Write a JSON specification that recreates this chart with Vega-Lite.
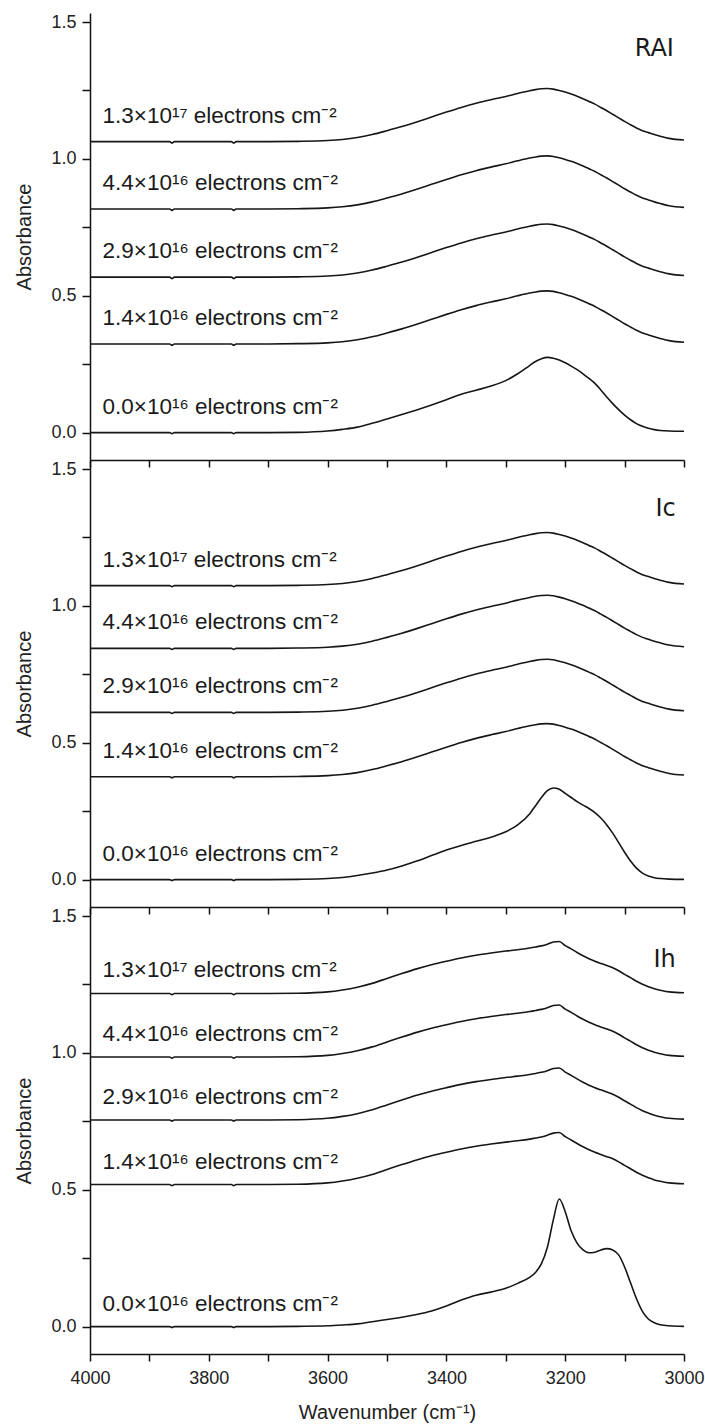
{
  "$schema": "https://vega.github.io/schema/vega-lite/v6.json",
  "padding": {"left": 14, "top": 13, "right": 4, "bottom": 1},
  "bounds": "flush",
  "spacing": 0,
  "background": "white",
  "datasets": {
    "spec": [
      {"w":4000,"R0":0,"R1":0.324,"R2":0.568,"R3":0.817,"R4":1.063,"C0":0,"C1":0.376,"C2":0.611,"C3":0.845,"C4":1.074,"H0":0,"H1":0.519,"H2":0.755,"H3":0.985,"H4":1.217},
      {"w":3950,"R0":0,"R1":0.324,"R2":0.568,"R3":0.817,"R4":1.063,"C0":0,"C1":0.376,"C2":0.611,"C3":0.845,"C4":1.074,"H0":0,"H1":0.519,"H2":0.755,"H3":0.985,"H4":1.217},
      {"w":3900,"R0":0,"R1":0.324,"R2":0.568,"R3":0.817,"R4":1.063,"C0":0,"C1":0.376,"C2":0.611,"C3":0.845,"C4":1.074,"H0":0,"H1":0.519,"H2":0.755,"H3":0.985,"H4":1.217},
      {"w":3866,"R0":0,"R1":0.324,"R2":0.568,"R3":0.817,"R4":1.063,"C0":0,"C1":0.376,"C2":0.611,"C3":0.845,"C4":1.074,"H0":0,"H1":0.519,"H2":0.755,"H3":0.985,"H4":1.217},
      {"w":3862,"R0":-0.004,"R1":0.319,"R2":0.563,"R3":0.812,"R4":1.058,"C0":-0.003,"C1":0.372,"C2":0.607,"C3":0.841,"C4":1.070,"H0":-0.003,"H1":0.515,"H2":0.751,"H3":0.981,"H4":1.213},
      {"w":3858,"R0":0,"R1":0.324,"R2":0.568,"R3":0.817,"R4":1.063,"C0":0,"C1":0.376,"C2":0.611,"C3":0.845,"C4":1.074,"H0":0,"H1":0.519,"H2":0.755,"H3":0.985,"H4":1.217},
      {"w":3850,"R0":0,"R1":0.324,"R2":0.568,"R3":0.817,"R4":1.063,"C0":0,"C1":0.376,"C2":0.611,"C3":0.845,"C4":1.074,"H0":0,"H1":0.519,"H2":0.755,"H3":0.985,"H4":1.217},
      {"w":3800,"R0":0,"R1":0.324,"R2":0.568,"R3":0.817,"R4":1.063,"C0":0,"C1":0.376,"C2":0.611,"C3":0.845,"C4":1.074,"H0":0,"H1":0.519,"H2":0.755,"H3":0.985,"H4":1.217},
      {"w":3762,"R0":0,"R1":0.324,"R2":0.568,"R3":0.817,"R4":1.063,"C0":0,"C1":0.376,"C2":0.611,"C3":0.845,"C4":1.074,"H0":0,"H1":0.519,"H2":0.755,"H3":0.985,"H4":1.217},
      {"w":3758,"R0":-0.004,"R1":0.319,"R2":0.563,"R3":0.812,"R4":1.058,"C0":-0.003,"C1":0.372,"C2":0.607,"C3":0.841,"C4":1.070,"H0":-0.003,"H1":0.515,"H2":0.751,"H3":0.981,"H4":1.213},
      {"w":3754,"R0":0,"R1":0.324,"R2":0.568,"R3":0.817,"R4":1.063,"C0":0,"C1":0.376,"C2":0.611,"C3":0.845,"C4":1.074,"H0":0,"H1":0.519,"H2":0.755,"H3":0.985,"H4":1.217},
      {"w":3700,"R0":0,"R1":0.324,"R2":0.568,"R3":0.817,"R4":1.063,"C0":0,"C1":0.376,"C2":0.611,"C3":0.845,"C4":1.074,"H0":0,"H1":0.519,"H2":0.755,"H3":0.985,"H4":1.217},
      {"w":3650,"R0":0.001,"R1":0.325,"R2":0.569,"R3":0.818,"R4":1.064,"C0":0.001,"C1":0.377,"C2":0.612,"C3":0.846,"C4":1.075,"H0":0.001,"H1":0.520,"H2":0.756,"H3":0.986,"H4":1.218},
      {"w":3600,"R0":0.006,"R1":0.328,"R2":0.572,"R3":0.821,"R4":1.067,"C0":0.004,"C1":0.380,"C2":0.615,"C3":0.849,"C4":1.078,"H0":0.003,"H1":0.525,"H2":0.761,"H3":0.991,"H4":1.223},
      {"w":3575,"R0":0.012,"R1":0.332,"R2":0.576,"R3":0.825,"R4":1.071,"C0":0.008,"C1":0.384,"C2":0.619,"C3":0.853,"C4":1.082,"H0":0.006,"H1":0.532,"H2":0.768,"H3":0.998,"H4":1.230},
      {"w":3550,"R0":0.020,"R1":0.339,"R2":0.583,"R3":0.832,"R4":1.078,"C0":0.015,"C1":0.391,"C2":0.626,"C3":0.860,"C4":1.089,"H0":0.010,"H1":0.542,"H2":0.778,"H3":1.008,"H4":1.240},
      {"w":3525,"R0":0.034,"R1":0.350,"R2":0.594,"R3":0.843,"R4":1.089,"C0":0.024,"C1":0.402,"C2":0.637,"C3":0.871,"C4":1.100,"H0":0.018,"H1":0.556,"H2":0.792,"H3":1.022,"H4":1.254},
      {"w":3500,"R0":0.050,"R1":0.364,"R2":0.608,"R3":0.857,"R4":1.103,"C0":0.035,"C1":0.416,"C2":0.651,"C3":0.885,"C4":1.114,"H0":0.026,"H1":0.574,"H2":0.810,"H3":1.040,"H4":1.272},
      {"w":3475,"R0":0.066,"R1":0.379,"R2":0.623,"R3":0.872,"R4":1.118,"C0":0.050,"C1":0.431,"C2":0.666,"C3":0.900,"C4":1.129,"H0":0.034,"H1":0.592,"H2":0.828,"H3":1.058,"H4":1.290},
      {"w":3450,"R0":0.083,"R1":0.396,"R2":0.640,"R3":0.889,"R4":1.135,"C0":0.068,"C1":0.448,"C2":0.683,"C3":0.917,"C4":1.146,"H0":0.044,"H1":0.609,"H2":0.845,"H3":1.075,"H4":1.307},
      {"w":3425,"R0":0.101,"R1":0.414,"R2":0.658,"R3":0.907,"R4":1.153,"C0":0.088,"C1":0.466,"C2":0.701,"C3":0.935,"C4":1.164,"H0":0.057,"H1":0.624,"H2":0.860,"H3":1.090,"H4":1.322},
      {"w":3400,"R0":0.120,"R1":0.432,"R2":0.676,"R3":0.925,"R4":1.171,"C0":0.108,"C1":0.484,"C2":0.719,"C3":0.953,"C4":1.182,"H0":0.075,"H1":0.637,"H2":0.873,"H3":1.103,"H4":1.335},
      {"w":3375,"R0":0.140,"R1":0.449,"R2":0.693,"R3":0.942,"R4":1.188,"C0":0.125,"C1":0.501,"C2":0.736,"C3":0.970,"C4":1.199,"H0":0.097,"H1":0.649,"H2":0.885,"H3":1.115,"H4":1.347},
      {"w":3350,"R0":0.155,"R1":0.464,"R2":0.708,"R3":0.957,"R4":1.203,"C0":0.140,"C1":0.516,"C2":0.751,"C3":0.985,"C4":1.214,"H0":0.115,"H1":0.659,"H2":0.895,"H3":1.125,"H4":1.357},
      {"w":3325,"R0":0.170,"R1":0.477,"R2":0.721,"R3":0.970,"R4":1.216,"C0":0.155,"C1":0.529,"C2":0.764,"C3":0.998,"C4":1.227,"H0":0.126,"H1":0.667,"H2":0.903,"H3":1.133,"H4":1.365},
      {"w":3300,"R0":0.190,"R1":0.489,"R2":0.733,"R3":0.982,"R4":1.228,"C0":0.175,"C1":0.541,"C2":0.776,"C3":1.010,"C4":1.239,"H0":0.140,"H1":0.674,"H2":0.910,"H3":1.140,"H4":1.372},
      {"w":3280,"R0":0.215,"R1":0.500,"R2":0.744,"R3":0.993,"R4":1.239,"C0":0.200,"C1":0.552,"C2":0.787,"C3":1.021,"C4":1.250,"H0":0.158,"H1":0.679,"H2":0.915,"H3":1.145,"H4":1.377},
      {"w":3260,"R0":0.245,"R1":0.510,"R2":0.754,"R3":1.003,"R4":1.249,"C0":0.240,"C1":0.562,"C2":0.797,"C3":1.031,"C4":1.260,"H0":0.180,"H1":0.685,"H2":0.921,"H3":1.151,"H4":1.383},
      {"w":3250,"R0":0.260,"R1":0.514,"R2":0.758,"R3":1.007,"R4":1.253,"C0":0.270,"C1":0.566,"C2":0.801,"C3":1.035,"C4":1.264,"H0":0.198,"H1":0.689,"H2":0.925,"H3":1.155,"H4":1.387},
      {"w":3240,"R0":0.270,"R1":0.517,"R2":0.761,"R3":1.010,"R4":1.256,"C0":0.300,"C1":0.569,"C2":0.804,"C3":1.038,"C4":1.267,"H0":0.230,"H1":0.693,"H2":0.929,"H3":1.159,"H4":1.391},
      {"w":3230,"R0":0.275,"R1":0.518,"R2":0.762,"R3":1.011,"R4":1.257,"C0":0.325,"C1":0.570,"C2":0.805,"C3":1.039,"C4":1.268,"H0":0.290,"H1":0.699,"H2":0.935,"H3":1.165,"H4":1.397},
      {"w":3220,"R0":0.272,"R1":0.516,"R2":0.760,"R3":1.009,"R4":1.255,"C0":0.335,"C1":0.568,"C2":0.803,"C3":1.037,"C4":1.266,"H0":0.390,"H1":0.707,"H2":0.943,"H3":1.173,"H4":1.405},
      {"w":3210,"R0":0.265,"R1":0.511,"R2":0.755,"R3":1.004,"R4":1.250,"C0":0.330,"C1":0.563,"C2":0.798,"C3":1.032,"C4":1.261,"H0":0.466,"H1":0.709,"H2":0.945,"H3":1.175,"H4":1.407},
      {"w":3200,"R0":0.255,"R1":0.505,"R2":0.749,"R3":0.998,"R4":1.244,"C0":0.315,"C1":0.557,"C2":0.792,"C3":1.026,"C4":1.255,"H0":0.420,"H1":0.694,"H2":0.930,"H3":1.160,"H4":1.392},
      {"w":3190,"R0":0.243,"R1":0.498,"R2":0.742,"R3":0.991,"R4":1.237,"C0":0.300,"C1":0.550,"C2":0.785,"C3":1.019,"C4":1.248,"H0":0.350,"H1":0.682,"H2":0.918,"H3":1.148,"H4":1.380},
      {"w":3180,"R0":0.230,"R1":0.490,"R2":0.734,"R3":0.983,"R4":1.229,"C0":0.285,"C1":0.542,"C2":0.777,"C3":1.011,"C4":1.240,"H0":0.305,"H1":0.669,"H2":0.905,"H3":1.135,"H4":1.367},
      {"w":3170,"R0":0.215,"R1":0.481,"R2":0.725,"R3":0.974,"R4":1.220,"C0":0.272,"C1":0.533,"C2":0.768,"C3":1.002,"C4":1.231,"H0":0.280,"H1":0.657,"H2":0.893,"H3":1.123,"H4":1.355},
      {"w":3160,"R0":0.198,"R1":0.471,"R2":0.715,"R3":0.964,"R4":1.210,"C0":0.260,"C1":0.523,"C2":0.758,"C3":0.992,"C4":1.221,"H0":0.270,"H1":0.646,"H2":0.882,"H3":1.112,"H4":1.344},
      {"w":3150,"R0":0.180,"R1":0.461,"R2":0.705,"R3":0.954,"R4":1.200,"C0":0.245,"C1":0.513,"C2":0.748,"C3":0.982,"C4":1.211,"H0":0.272,"H1":0.637,"H2":0.873,"H3":1.103,"H4":1.335},
      {"w":3140,"R0":0.156,"R1":0.449,"R2":0.693,"R3":0.942,"R4":1.188,"C0":0.225,"C1":0.501,"C2":0.736,"C3":0.970,"C4":1.199,"H0":0.280,"H1":0.629,"H2":0.865,"H3":1.095,"H4":1.327},
      {"w":3130,"R0":0.130,"R1":0.437,"R2":0.681,"R3":0.930,"R4":1.176,"C0":0.200,"C1":0.489,"C2":0.724,"C3":0.958,"C4":1.187,"H0":0.285,"H1":0.621,"H2":0.857,"H3":1.087,"H4":1.319},
      {"w":3120,"R0":0.106,"R1":0.424,"R2":0.668,"R3":0.917,"R4":1.163,"C0":0.170,"C1":0.476,"C2":0.711,"C3":0.945,"C4":1.174,"H0":0.280,"H1":0.613,"H2":0.849,"H3":1.079,"H4":1.311},
      {"w":3110,"R0":0.084,"R1":0.411,"R2":0.655,"R3":0.904,"R4":1.150,"C0":0.135,"C1":0.463,"C2":0.698,"C3":0.932,"C4":1.161,"H0":0.262,"H1":0.602,"H2":0.838,"H3":1.068,"H4":1.300},
      {"w":3100,"R0":0.064,"R1":0.398,"R2":0.642,"R3":0.891,"R4":1.137,"C0":0.100,"C1":0.450,"C2":0.685,"C3":0.919,"C4":1.148,"H0":0.218,"H1":0.589,"H2":0.825,"H3":1.055,"H4":1.287},
      {"w":3090,"R0":0.047,"R1":0.386,"R2":0.630,"R3":0.879,"R4":1.125,"C0":0.068,"C1":0.438,"C2":0.673,"C3":0.907,"C4":1.136,"H0":0.160,"H1":0.577,"H2":0.813,"H3":1.043,"H4":1.275},
      {"w":3080,"R0":0.033,"R1":0.374,"R2":0.618,"R3":0.867,"R4":1.113,"C0":0.042,"C1":0.426,"C2":0.661,"C3":0.895,"C4":1.124,"H0":0.102,"H1":0.564,"H2":0.800,"H3":1.030,"H4":1.262},
      {"w":3070,"R0":0.023,"R1":0.364,"R2":0.608,"R3":0.857,"R4":1.103,"C0":0.024,"C1":0.416,"C2":0.651,"C3":0.885,"C4":1.114,"H0":0.056,"H1":0.553,"H2":0.789,"H3":1.019,"H4":1.251},
      {"w":3060,"R0":0.016,"R1":0.357,"R2":0.601,"R3":0.850,"R4":1.096,"C0":0.013,"C1":0.409,"C2":0.644,"C3":0.878,"C4":1.107,"H0":0.028,"H1":0.544,"H2":0.780,"H3":1.010,"H4":1.242},
      {"w":3050,"R0":0.011,"R1":0.350,"R2":0.594,"R3":0.843,"R4":1.089,"C0":0.007,"C1":0.402,"C2":0.637,"C3":0.871,"C4":1.100,"H0":0.014,"H1":0.536,"H2":0.772,"H3":1.002,"H4":1.234},
      {"w":3040,"R0":0.008,"R1":0.344,"R2":0.588,"R3":0.837,"R4":1.083,"C0":0.004,"C1":0.396,"C2":0.631,"C3":0.865,"C4":1.094,"H0":0.007,"H1":0.531,"H2":0.767,"H3":0.997,"H4":1.229},
      {"w":3025,"R0":0.006,"R1":0.336,"R2":0.580,"R3":0.829,"R4":1.075,"C0":0.002,"C1":0.388,"C2":0.623,"C3":0.857,"C4":1.086,"H0":0.003,"H1":0.525,"H2":0.761,"H3":0.991,"H4":1.223},
      {"w":3000,"R0":0.005,"R1":0.330,"R2":0.574,"R3":0.823,"R4":1.069,"C0":0.001,"C1":0.382,"C2":0.617,"C3":0.851,"C4":1.080,"H0":0.001,"H1":0.522,"H2":0.758,"H3":0.988,"H4":1.220}
    ],
    "labels": [
      {"p":"RAI","t":"1.3×10¹⁷ electrons cm⁻²","a":1.063},
      {"p":"RAI","t":"4.4×10¹⁶ electrons cm⁻²","a":0.817},
      {"p":"RAI","t":"2.9×10¹⁶ electrons cm⁻²","a":0.568},
      {"p":"RAI","t":"1.4×10¹⁶ electrons cm⁻²","a":0.324},
      {"p":"RAI","t":"0.0×10¹⁶ electrons cm⁻²","a":0},
      {"p":"Ic","t":"1.3×10¹⁷ electrons cm⁻²","a":1.074},
      {"p":"Ic","t":"4.4×10¹⁶ electrons cm⁻²","a":0.845},
      {"p":"Ic","t":"2.9×10¹⁶ electrons cm⁻²","a":0.611},
      {"p":"Ic","t":"1.4×10¹⁶ electrons cm⁻²","a":0.376},
      {"p":"Ic","t":"0.0×10¹⁶ electrons cm⁻²","a":0},
      {"p":"Ih","t":"1.3×10¹⁷ electrons cm⁻²","a":1.217},
      {"p":"Ih","t":"4.4×10¹⁶ electrons cm⁻²","a":0.985},
      {"p":"Ih","t":"2.9×10¹⁶ electrons cm⁻²","a":0.755},
      {"p":"Ih","t":"1.4×10¹⁶ electrons cm⁻²","a":0.519},
      {"p":"Ih","t":"0.0×10¹⁶ electrons cm⁻²","a":0}
    ]
  },
  "config": {
    "view": {"stroke": null},
    "axis": {
      "domainColor": "#111111", "domainWidth": 1.5,
      "tickColor": "#111111", "tickWidth": 1.5,
      "labelColor": "#222222", "labelFont": "Liberation Sans", "labelFontSize": 18,
      "titleFont": "Liberation Sans", "titleFontSize": 20, "titleFontWeight": "normal", "titleColor": "#222222",
      "grid": false, "labelFlush": false, "labelOverlap": false
    },
    "text": {"color": "#1a1a1a"}
  },
  "vconcat": [
    {
      "width": 594, "height": 447,
      "layer": [
        {
          "data": {"name": "spec"},
          "transform": [{"fold": ["R0","R1","R2","R3","R4"], "as": ["series","a"]}],
          "mark": {"type": "line", "color": "#161616", "strokeWidth": 1.6, "interpolate": "monotone"},
          "encoding": {
            "x": {"field": "w", "type": "quantitative", "scale": {"domain": [4000, 3000], "nice": false},
                  "axis": {"values": [4000,3900,3800,3700,3600,3500,3400,3300,3200,3100,3000], "labels": false, "title": null, "tickSize": 7,
                           "encode": {"ticks": {"update": {"y2": {"signal": "datum.value % 200 == 0 ? 7 : 3.5"}}}}}},
            "y": {"field": "a", "type": "quantitative", "scale": {"domain": [-0.1, 1.533], "nice": false, "zero": false},
                  "axis": {"values": [0,0.25,0.5,0.75,1,1.25,1.5], "format": ".1f", "labelExpr": "datum.value*2 == round(datum.value*2) ? datum.label : ''",
                           "title": "Absorbance", "titlePadding": 16, "labelPadding": 6, "tickSize": 8,
                           "encode": {"ticks": {"update": {"x2": {"signal": "datum.value*2 == round(datum.value*2) ? -8 : -3.5"}}}}}},
            "detail": {"field": "series"}
          }
        },
        {
          "data": {"name": "labels"},
          "transform": [{"filter": "datum.p == 'RAI'"}],
          "mark": {"type": "text", "align": "left", "baseline": "alphabetic", "dy": -19, "fontSize": 22.5, "font": "Liberation Sans"},
          "encoding": {
            "x": {"datum": 3979, "type": "quantitative"},
            "y": {"field": "a", "type": "quantitative"},
            "text": {"field": "t"}
          }
        },
        {
          "data": {"values": [{"n": "RAI"}]},
          "mark": {"type": "text", "align": "right", "baseline": "middle", "fontSize": 24, "font": "DejaVu Sans"},
          "encoding": {
            "x": {"datum": 3017, "type": "quantitative"},
            "y": {"datum": 1.40, "type": "quantitative"},
            "text": {"field": "n"}
          }
        }
      ]
    },
    {
      "width": 594, "height": 447,
      "layer": [
        {
          "data": {"name": "spec"},
          "transform": [{"fold": ["C0","C1","C2","C3","C4"], "as": ["series","a"]}],
          "mark": {"type": "line", "color": "#161616", "strokeWidth": 1.6, "interpolate": "monotone"},
          "encoding": {
            "x": {"field": "w", "type": "quantitative", "scale": {"domain": [4000, 3000], "nice": false},
                  "axis": {"values": [4000,3900,3800,3700,3600,3500,3400,3300,3200,3100,3000], "labels": false, "title": null, "tickSize": 7,
                           "encode": {"ticks": {"update": {"y2": {"signal": "datum.value % 200 == 0 ? 7 : 3.5"}}}}}},
            "y": {"field": "a", "type": "quantitative", "scale": {"domain": [-0.1, 1.533], "nice": false, "zero": false},
                  "axis": {"values": [0,0.25,0.5,0.75,1,1.25,1.5], "format": ".1f", "labelExpr": "datum.value*2 == round(datum.value*2) ? datum.label : ''",
                           "title": "Absorbance", "titlePadding": 16, "labelPadding": 6, "tickSize": 8,
                           "encode": {"ticks": {"update": {"x2": {"signal": "datum.value*2 == round(datum.value*2) ? -8 : -3.5"}}}}}},
            "detail": {"field": "series"}
          }
        },
        {
          "data": {"name": "labels"},
          "transform": [{"filter": "datum.p == 'Ic'"}],
          "mark": {"type": "text", "align": "left", "baseline": "alphabetic", "dy": -19, "fontSize": 22.5, "font": "Liberation Sans"},
          "encoding": {
            "x": {"datum": 3979, "type": "quantitative"},
            "y": {"field": "a", "type": "quantitative"},
            "text": {"field": "t"}
          }
        },
        {
          "data": {"values": [{"n": "Ic"}]},
          "mark": {"type": "text", "align": "right", "baseline": "middle", "fontSize": 24, "font": "DejaVu Sans"},
          "encoding": {
            "x": {"datum": 3014, "type": "quantitative"},
            "y": {"datum": 1.355, "type": "quantitative"},
            "text": {"field": "n"}
          }
        }
      ]
    },
    {
      "width": 594, "height": 447,
      "layer": [
        {
          "data": {"name": "spec"},
          "transform": [{"fold": ["H0","H1","H2","H3","H4"], "as": ["series","a"]}],
          "mark": {"type": "line", "color": "#161616", "strokeWidth": 1.6, "interpolate": "monotone"},
          "encoding": {
            "x": {"field": "w", "type": "quantitative", "scale": {"domain": [4000, 3000], "nice": false},
                  "axis": {"values": [4000,3900,3800,3700,3600,3500,3400,3300,3200,3100,3000], "format": "d", "labelExpr": "datum.value % 200 == 0 ? datum.label : ''",
                           "title": "Wavenumber (cm⁻¹)", "titlePadding": 15, "labelPadding": 8, "tickSize": 7,
                           "encode": {"ticks": {"update": {"y2": {"signal": "datum.value % 200 == 0 ? 7 : 3.5"}}}}}},
            "y": {"field": "a", "type": "quantitative", "scale": {"domain": [-0.1, 1.533], "nice": false, "zero": false},
                  "axis": {"values": [0,0.25,0.5,0.75,1,1.25,1.5], "format": ".1f", "labelExpr": "datum.value*2 == round(datum.value*2) ? datum.label : ''",
                           "title": "Absorbance", "titlePadding": 16, "labelPadding": 6, "tickSize": 8,
                           "encode": {"ticks": {"update": {"x2": {"signal": "datum.value*2 == round(datum.value*2) ? -8 : -3.5"}}}}}},
            "detail": {"field": "series"}
          }
        },
        {
          "data": {"name": "labels"},
          "transform": [{"filter": "datum.p == 'Ih'"}],
          "mark": {"type": "text", "align": "left", "baseline": "alphabetic", "dy": -16, "fontSize": 22.5, "font": "Liberation Sans"},
          "encoding": {
            "x": {"datum": 3979, "type": "quantitative"},
            "y": {"field": "a", "type": "quantitative"},
            "text": {"field": "t"}
          }
        },
        {
          "data": {"values": [{"n": "Ih"}]},
          "mark": {"type": "text", "align": "right", "baseline": "middle", "fontSize": 24, "font": "DejaVu Sans"},
          "encoding": {
            "x": {"datum": 3014, "type": "quantitative"},
            "y": {"datum": 1.34, "type": "quantitative"},
            "text": {"field": "n"}
          }
        }
      ]
    }
  ]
}
